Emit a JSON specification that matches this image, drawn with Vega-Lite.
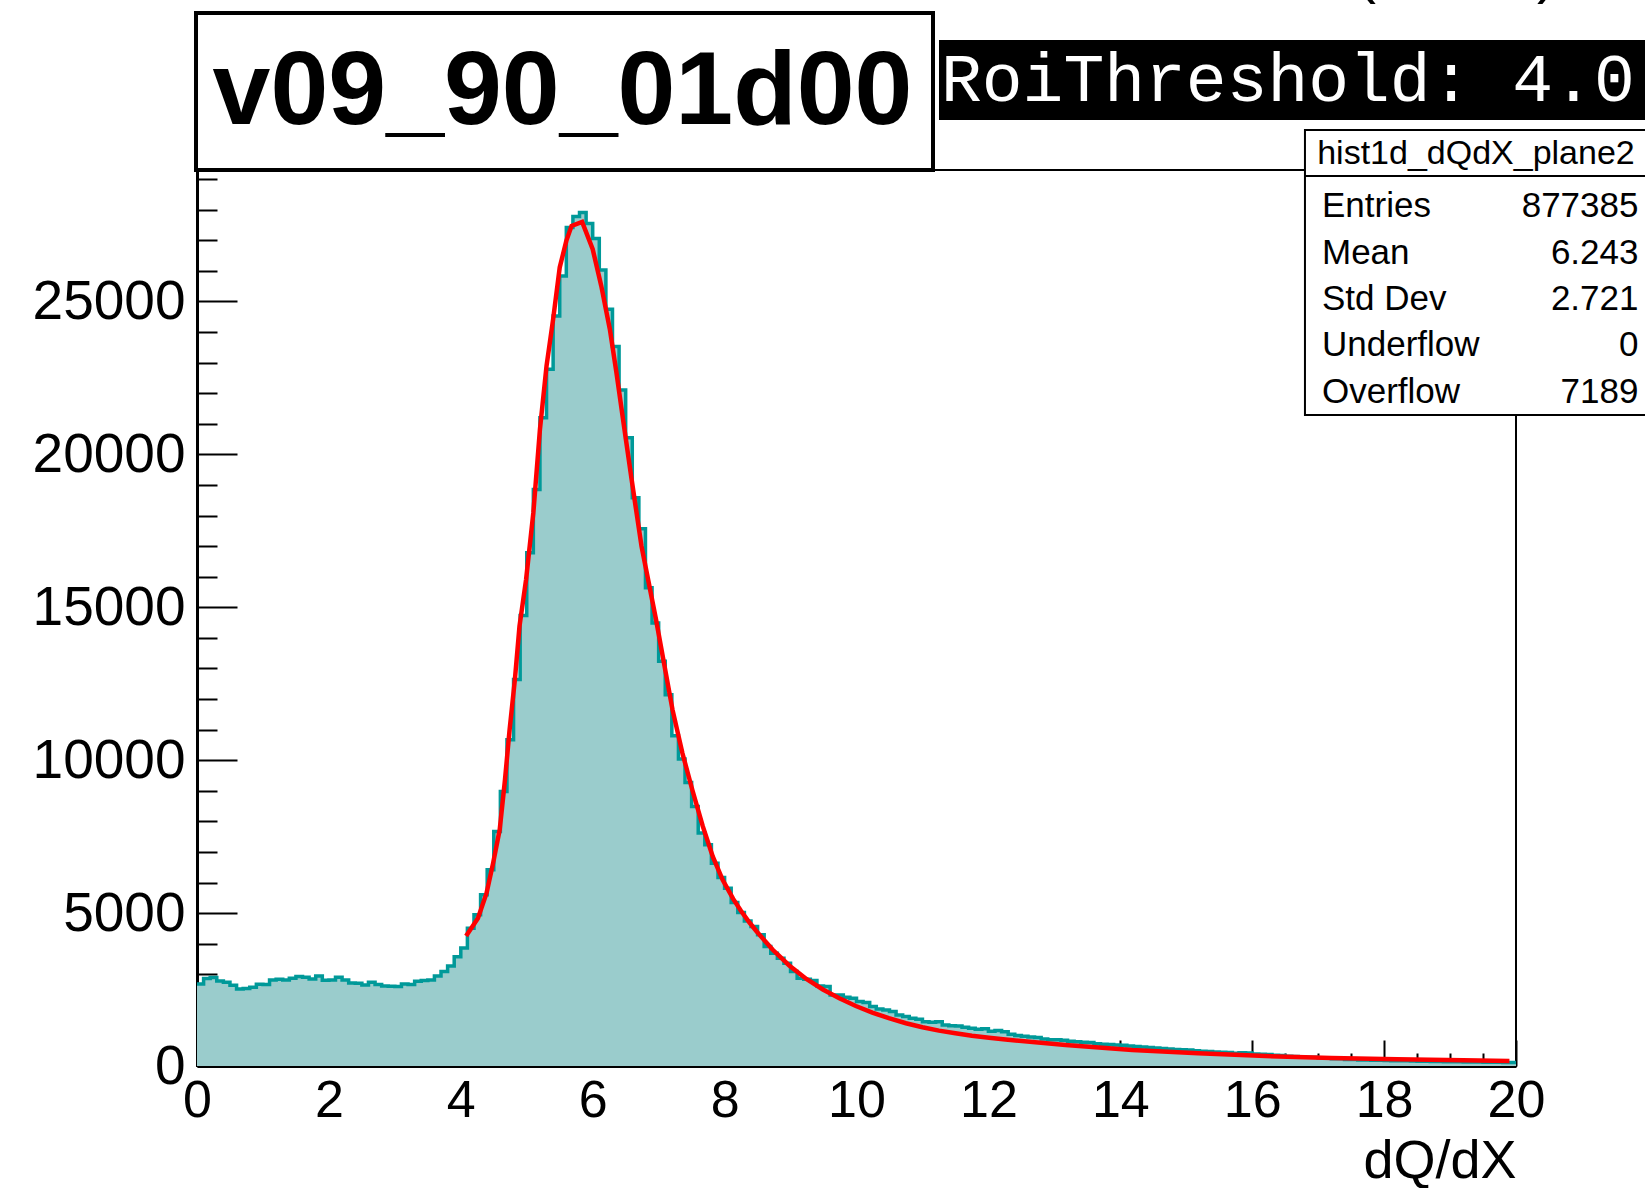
{
  "$schema": "https://vega.github.io/schema/vega-lite/v6.json",
  "width": 1319,
  "height": 896,
  "autosize": {"type": "none"},
  "padding": {"left": 197, "top": 170, "right": 129, "bottom": 122},
  "background": "white",
  "config": {
    "view": {"stroke": "black", "strokeWidth": 2},
    "font": "Liberation Sans"
  },
  "resolve": {"axis": {"x": "independent", "y": "independent"}},
  "datasets": {
    "hist": [
      {"x0":0,"x1":0.1,"n":2684},{"x0":0.1,"x1":0.2,"n":2858},{"x0":0.2,"x1":0.3,"n":2891},{"x0":0.3,"x1":0.4,"n":2782},{"x0":0.4,"x1":0.5,"n":2738},
      {"x0":0.5,"x1":0.6,"n":2640},{"x0":0.6,"x1":0.7,"n":2520},{"x0":0.7,"x1":0.8,"n":2531},{"x0":0.8,"x1":0.9,"n":2575},{"x0":0.9,"x1":1,"n":2673},
      {"x0":1,"x1":1.1,"n":2662},{"x0":1.1,"x1":1.2,"n":2815},{"x0":1.2,"x1":1.3,"n":2837},{"x0":1.3,"x1":1.4,"n":2815},{"x0":1.4,"x1":1.5,"n":2869},
      {"x0":1.5,"x1":1.6,"n":2924},{"x0":1.6,"x1":1.7,"n":2902},{"x0":1.7,"x1":1.8,"n":2848},{"x0":1.8,"x1":1.9,"n":2946},{"x0":1.9,"x1":2,"n":2804},
      {"x0":2,"x1":2.1,"n":2815},{"x0":2.1,"x1":2.2,"n":2902},{"x0":2.2,"x1":2.3,"n":2815},{"x0":2.3,"x1":2.4,"n":2717},{"x0":2.4,"x1":2.5,"n":2706},
      {"x0":2.5,"x1":2.6,"n":2651},{"x0":2.6,"x1":2.7,"n":2738},{"x0":2.7,"x1":2.8,"n":2662},{"x0":2.8,"x1":2.9,"n":2618},{"x0":2.9,"x1":3,"n":2607},
      {"x0":3,"x1":3.1,"n":2597},{"x0":3.1,"x1":3.2,"n":2684},{"x0":3.2,"x1":3.3,"n":2662},{"x0":3.3,"x1":3.4,"n":2771},{"x0":3.4,"x1":3.5,"n":2793},
      {"x0":3.5,"x1":3.6,"n":2815},{"x0":3.6,"x1":3.7,"n":2946},{"x0":3.7,"x1":3.8,"n":3088},{"x0":3.8,"x1":3.9,"n":3270},{"x0":3.9,"x1":4,"n":3570},
      {"x0":4,"x1":4.1,"n":3860},{"x0":4.1,"x1":4.2,"n":4507},{"x0":4.2,"x1":4.3,"n":4943},{"x0":4.3,"x1":4.4,"n":5597},{"x0":4.4,"x1":4.5,"n":6416},
      {"x0":4.5,"x1":4.6,"n":7670},{"x0":4.6,"x1":4.7,"n":8979},{"x0":4.7,"x1":4.8,"n":10671},{"x0":4.8,"x1":4.9,"n":12635},{"x0":4.9,"x1":5,"n":14730},
      {"x0":5,"x1":5.1,"n":16782},{"x0":5.1,"x1":5.2,"n":18854},{"x0":5.2,"x1":5.3,"n":21201},{"x0":5.3,"x1":5.4,"n":22782},{"x0":5.4,"x1":5.5,"n":24527},
      {"x0":5.5,"x1":5.6,"n":25837},{"x0":5.6,"x1":5.7,"n":27420},{"x0":5.7,"x1":5.8,"n":27780},{"x0":5.8,"x1":5.9,"n":27911},{"x0":5.9,"x1":6,"n":27550},
      {"x0":6,"x1":6.1,"n":27060},{"x0":6.1,"x1":6.2,"n":26034},{"x0":6.2,"x1":6.3,"n":24746},{"x0":6.3,"x1":6.4,"n":23525},{"x0":6.4,"x1":6.5,"n":22105},
      {"x0":6.5,"x1":6.6,"n":20546},{"x0":6.6,"x1":6.7,"n":18582},{"x0":6.7,"x1":6.8,"n":17567},{"x0":6.8,"x1":6.9,"n":15636},{"x0":6.9,"x1":7,"n":14490},
      {"x0":7,"x1":7.1,"n":13235},{"x0":7.1,"x1":7.2,"n":12144},{"x0":7.2,"x1":7.3,"n":10802},{"x0":7.3,"x1":7.4,"n":10039},{"x0":7.4,"x1":7.5,"n":9274},
      {"x0":7.5,"x1":7.6,"n":8488},{"x0":7.6,"x1":7.7,"n":7616},{"x0":7.7,"x1":7.8,"n":7234},{"x0":7.8,"x1":7.9,"n":6634},{"x0":7.9,"x1":8,"n":6165},
      {"x0":8,"x1":8.1,"n":5816},{"x0":8.1,"x1":8.2,"n":5347},{"x0":8.2,"x1":8.3,"n":5020},{"x0":8.3,"x1":8.4,"n":4740},{"x0":8.4,"x1":8.5,"n":4560},
      {"x0":8.5,"x1":8.6,"n":4288},{"x0":8.6,"x1":8.7,"n":3906},{"x0":8.7,"x1":8.8,"n":3688},{"x0":8.8,"x1":8.9,"n":3524},{"x0":8.9,"x1":9,"n":3360},
      {"x0":9,"x1":9.1,"n":3088},{"x0":9.1,"x1":9.2,"n":2870},{"x0":9.2,"x1":9.3,"n":2837},{"x0":9.3,"x1":9.4,"n":2800},{"x0":9.4,"x1":9.5,"n":2620},
      {"x0":9.5,"x1":9.6,"n":2596},{"x0":9.6,"x1":9.7,"n":2324},{"x0":9.7,"x1":9.8,"n":2324},{"x0":9.8,"x1":9.9,"n":2247},{"x0":9.9,"x1":10,"n":2215},
      {"x0":10,"x1":10.1,"n":2106},{"x0":10.1,"x1":10.2,"n":2073},{"x0":10.2,"x1":10.3,"n":1942},{"x0":10.3,"x1":10.4,"n":1860},{"x0":10.4,"x1":10.5,"n":1833},
      {"x0":10.5,"x1":10.6,"n":1779},{"x0":10.6,"x1":10.7,"n":1670},{"x0":10.7,"x1":10.8,"n":1615},{"x0":10.8,"x1":10.9,"n":1560},{"x0":10.9,"x1":11,"n":1528},
      {"x0":11,"x1":11.1,"n":1450},{"x0":11.1,"x1":11.2,"n":1430},{"x0":11.2,"x1":11.3,"n":1451},{"x0":11.3,"x1":11.4,"n":1342},{"x0":11.4,"x1":11.5,"n":1320},
      {"x0":11.5,"x1":11.6,"n":1309},{"x0":11.6,"x1":11.7,"n":1266},{"x0":11.7,"x1":11.8,"n":1233},{"x0":11.8,"x1":11.9,"n":1200},{"x0":11.9,"x1":12,"n":1222},
      {"x0":12,"x1":12.1,"n":1135},{"x0":12.1,"x1":12.2,"n":1157},{"x0":12.2,"x1":12.3,"n":1120},{"x0":12.3,"x1":12.4,"n":1040},{"x0":12.4,"x1":12.5,"n":1000},
      {"x0":12.5,"x1":12.6,"n":970},{"x0":12.6,"x1":12.7,"n":950},{"x0":12.7,"x1":12.8,"n":930},{"x0":12.8,"x1":12.9,"n":880},{"x0":12.9,"x1":13,"n":860},
      {"x0":13,"x1":13.1,"n":855},{"x0":13.1,"x1":13.2,"n":840},{"x0":13.2,"x1":13.3,"n":810},{"x0":13.3,"x1":13.4,"n":790},{"x0":13.4,"x1":13.5,"n":780},
      {"x0":13.5,"x1":13.6,"n":765},{"x0":13.6,"x1":13.7,"n":730},{"x0":13.7,"x1":13.8,"n":715},{"x0":13.8,"x1":13.9,"n":705},{"x0":13.9,"x1":14,"n":690},
      {"x0":14,"x1":14.1,"n":680},{"x0":14.1,"x1":14.2,"n":650},{"x0":14.2,"x1":14.3,"n":635},{"x0":14.3,"x1":14.4,"n":620},{"x0":14.4,"x1":14.5,"n":605},
      {"x0":14.5,"x1":14.6,"n":585},{"x0":14.6,"x1":14.7,"n":570},{"x0":14.7,"x1":14.8,"n":560},{"x0":14.8,"x1":14.9,"n":540},{"x0":14.9,"x1":15,"n":530},
      {"x0":15,"x1":15.1,"n":520},{"x0":15.1,"x1":15.2,"n":495},{"x0":15.2,"x1":15.3,"n":485},{"x0":15.3,"x1":15.4,"n":475},{"x0":15.4,"x1":15.5,"n":455},
      {"x0":15.5,"x1":15.6,"n":450},{"x0":15.6,"x1":15.7,"n":440},{"x0":15.7,"x1":15.8,"n":420},{"x0":15.8,"x1":15.9,"n":430},{"x0":15.9,"x1":16,"n":425},
      {"x0":16,"x1":16.1,"n":395},{"x0":16.1,"x1":16.2,"n":385},{"x0":16.2,"x1":16.3,"n":375},{"x0":16.3,"x1":16.4,"n":355},{"x0":16.4,"x1":16.5,"n":345},
      {"x0":16.5,"x1":16.6,"n":320},{"x0":16.6,"x1":16.7,"n":310},{"x0":16.7,"x1":16.8,"n":300},{"x0":16.8,"x1":16.9,"n":290},{"x0":16.9,"x1":17,"n":285},
      {"x0":17,"x1":17.1,"n":260},{"x0":17.1,"x1":17.2,"n":250},{"x0":17.2,"x1":17.3,"n":240},{"x0":17.3,"x1":17.4,"n":235},{"x0":17.4,"x1":17.5,"n":215},
      {"x0":17.5,"x1":17.6,"n":210},{"x0":17.6,"x1":17.7,"n":200},{"x0":17.7,"x1":17.8,"n":195},{"x0":17.8,"x1":17.9,"n":190},{"x0":17.9,"x1":18,"n":185},
      {"x0":18,"x1":18.1,"n":180},{"x0":18.1,"x1":18.2,"n":175},{"x0":18.2,"x1":18.3,"n":172},{"x0":18.3,"x1":18.4,"n":168},{"x0":18.4,"x1":18.5,"n":160},
      {"x0":18.5,"x1":18.6,"n":158},{"x0":18.6,"x1":18.7,"n":155},{"x0":18.7,"x1":18.8,"n":150},{"x0":18.8,"x1":18.9,"n":148},{"x0":18.9,"x1":19,"n":140},
      {"x0":19,"x1":19.1,"n":138},{"x0":19.1,"x1":19.2,"n":135},{"x0":19.2,"x1":19.3,"n":132},{"x0":19.3,"x1":19.4,"n":130},{"x0":19.4,"x1":19.5,"n":128},
      {"x0":19.5,"x1":19.6,"n":125},{"x0":19.6,"x1":19.7,"n":122},{"x0":19.7,"x1":19.8,"n":120},{"x0":19.8,"x1":19.9,"n":118},{"x0":19.9,"x1":20,"n":115}
    ],
    "fit": [
      {"x":4.08,"f":4255},{"x":4.26,"f":4834},{"x":4.39,"f":5652},{"x":4.49,"f":6634},{"x":4.59,"f":7725},
      {"x":4.67,"f":9362},{"x":4.74,"f":10998},{"x":4.82,"f":12635},{"x":4.89,"f":14380},{"x":4.99,"f":15908},
      {"x":5.1,"f":18091},{"x":5.2,"f":20818},{"x":5.3,"f":22891},{"x":5.4,"f":24419},{"x":5.5,"f":26111},
      {"x":5.6,"f":26983},{"x":5.68,"f":27473},{"x":5.84,"f":27604},{"x":6.0,"f":26710},{"x":6.13,"f":25509},
      {"x":6.26,"f":24092},{"x":6.36,"f":22673},{"x":6.46,"f":21146},{"x":6.59,"f":19181},{"x":6.74,"f":16999},
      {"x":6.84,"f":15908},{"x":6.96,"f":14599},{"x":7.09,"f":13071},{"x":7.21,"f":11653},{"x":7.36,"f":10235},
      {"x":7.51,"f":9034},{"x":7.67,"f":7834},{"x":7.82,"f":6852},{"x":7.97,"f":6088},{"x":8.13,"f":5464},
      {"x":8.25,"f":5068},{"x":8.38,"f":4684},{"x":8.48,"f":4414},{"x":8.73,"f":3801},{"x":8.98,"f":3288},
      {"x":9.24,"f":2846},{"x":9.49,"f":2501},{"x":9.74,"f":2213},{"x":9.99,"f":1963},{"x":10.24,"f":1745},
      {"x":10.49,"f":1563},{"x":10.75,"f":1397},{"x":11.0,"f":1266},{"x":11.25,"f":1157},{"x":11.5,"f":1069},
      {"x":11.75,"f":990},{"x":12.01,"f":924},{"x":12.26,"f":865},{"x":13.17,"f":687},{"x":14.18,"f":524},
      {"x":15.18,"f":415},{"x":16.2,"f":327},{"x":17.2,"f":262},{"x":18.2,"f":218},{"x":19.2,"f":185},{"x":19.9,"f":164}
    ]
  },
  "layer": [
    {
      "data": {"name": "hist"},
      "transform": [{"fold": ["x0", "x1"], "as": ["k", "edge"]}],
      "mark": {"type": "area", "fill": "#9acccc", "stroke": null},
      "encoding": {
        "x": {
          "field": "edge", "type": "quantitative",
          "scale": {"domain": [0, 20], "nice": false, "zero": false},
          "axis": {
            "orient": "bottom",
            "values": [0,2,4,6,8,10,12,14,16,18,20],
            "format": "d",
            "tickSize": -26,
            "tickWidth": 2, "tickColor": "black",
            "domainColor": "black", "domainWidth": 3,
            "grid": false,
            "labelFont": "Liberation Sans", "labelFontSize": 52, "labelColor": "black",
            "labelPadding": 35, "labelFlush": false, "labelOverlap": false, "labelBound": false,
            "title": "dQ/dX", "titleFont": "Liberation Sans", "titleFontSize": 54, "titleFontWeight": "normal",
            "titleColor": "black", "titleAnchor": "end", "titlePadding": 8
          }
        },
        "y": {
          "field": "n", "type": "quantitative", "stack": null,
          "scale": {"domain": [0, 29300], "nice": false},
          "axis": {
            "orient": "left",
            "values": [0,5000,10000,15000,20000,25000],
            "format": "d",
            "tickSize": -40,
            "tickWidth": 2, "tickColor": "black",
            "domainColor": "black", "domainWidth": 3,
            "grid": false,
            "labelFont": "Liberation Sans", "labelFontSize": 55, "labelColor": "black",
            "labelPadding": 52, "labelFlush": false, "labelOverlap": false, "labelBound": false,
            "title": null
          }
        },
        "order": [{"field": "edge", "type": "quantitative", "sort": "ascending"}, {"field": "k", "type": "nominal", "sort": "descending"}]
      }
    },
    {
      "data": {"name": "hist"},
      "transform": [{"fold": ["x0", "x1"], "as": ["k", "edge"]}],
      "mark": {"type": "line", "stroke": "#009999", "strokeWidth": 3.5},
      "encoding": {
        "x": {
          "field": "edge", "type": "quantitative",
          "axis": {
            "orient": "bottom",
            "values": [0.5,1,1.5,2.5,3,3.5,4.5,5,5.5,6.5,7,7.5,8.5,9,9.5,10.5,11,11.5,12.5,13,13.5,14.5,15,15.5,16.5,17,17.5,18.5,19,19.5],
            "labels": false, "domain": false, "grid": false,
            "tickSize": -13, "tickWidth": 2, "tickColor": "black",
            "title": null
          }
        },
        "y": {
          "field": "n", "type": "quantitative",
          "axis": {
            "orient": "left",
            "values": [1000,2000,3000,4000,6000,7000,8000,9000,11000,12000,13000,14000,16000,17000,18000,19000,21000,22000,23000,24000,26000,27000,28000,29000],
            "labels": false, "domain": false, "grid": false,
            "tickSize": -20, "tickWidth": 2, "tickColor": "black",
            "title": null
          }
        },
        "order": [{"field": "edge", "type": "quantitative", "sort": "ascending"}, {"field": "k", "type": "nominal", "sort": "descending"}]
      }
    },
    {
      "data": {"name": "fit"},
      "mark": {"type": "line", "stroke": "#ff0000", "strokeWidth": 4.5},
      "encoding": {
        "x": {"field": "x", "type": "quantitative", "axis": null},
        "y": {"field": "f", "type": "quantitative", "axis": null}
      }
    },
    {
      "data": {"values": [{"label": "v09_90_01d00"}]},
      "layer": [
        {
          "mark": {"type": "rect", "fill": "white", "stroke": "black", "strokeWidth": 4},
          "encoding": {
            "x": {"datum": -0.015, "type": "quantitative", "axis": null},
            "x2": {"datum": 11.16},
            "y": {"datum": 34434, "type": "quantitative", "axis": null},
            "y2": {"datum": 29300}
          }
        },
        {
          "mark": {"type": "text", "font": "Liberation Sans", "fontWeight": "bold", "fontSize": 104, "align": "center", "baseline": "alphabetic", "color": "black"},
          "encoding": {
            "x": {"datum": 5.542, "type": "quantitative", "axis": null},
            "y": {"datum": 30804, "type": "quantitative", "axis": null},
            "text": {"field": "label"}
          }
        }
      ]
    },
    {
      "data": {"values": [{"label": "RoiThreshold: 4.0"}]},
      "layer": [
        {
          "mark": {"type": "rect", "fill": "black", "stroke": null},
          "encoding": {
            "x": {"datum": 11.251, "type": "quantitative", "axis": null},
            "x2": {"datum": 22.18},
            "y": {"datum": 33551, "type": "quantitative", "axis": null},
            "y2": {"datum": 30935}
          }
        },
        {
          "mark": {"type": "text", "font": "Liberation Mono", "fontSize": 68, "align": "left", "baseline": "alphabetic", "color": "white"},
          "encoding": {
            "x": {"datum": 11.281, "type": "quantitative", "axis": null},
            "y": {"datum": 31566, "type": "quantitative", "axis": null},
            "text": {"field": "label"}
          }
        }
      ]
    },
    {
      "data": {"values": [{"name": "hist1d_dQdX_plane2", "labels": "Entries\nMean\nStd Dev\nUnderflow\nOverflow", "vals": "877385\n6.243\n2.721\n0\n7189"}]},
      "layer": [
        {
          "mark": {"type": "rect", "fill": "white", "stroke": "black", "strokeWidth": 2},
          "encoding": {
            "x": {"datum": 16.8, "type": "quantitative", "axis": null},
            "x2": {"datum": 22.18},
            "y": {"datum": 30608, "type": "quantitative", "axis": null},
            "y2": {"datum": 21288}
          }
        },
        {
          "mark": {"type": "rule", "stroke": "black", "strokeWidth": 2},
          "encoding": {
            "x": {"datum": 16.8, "type": "quantitative", "axis": null},
            "x2": {"datum": 22.18},
            "y": {"datum": 29104, "type": "quantitative", "axis": null}
          }
        },
        {
          "mark": {"type": "text", "font": "Liberation Sans", "fontSize": 34, "align": "center", "baseline": "alphabetic", "color": "black"},
          "encoding": {
            "x": {"datum": 19.393, "type": "quantitative", "axis": null},
            "y": {"datum": 29496, "type": "quantitative", "axis": null},
            "text": {"field": "name"}
          }
        },
        {
          "mark": {"type": "text", "font": "Liberation Sans", "fontSize": 35, "align": "left", "baseline": "alphabetic", "color": "black", "lineBreak": "\n", "lineHeight": 46.3},
          "encoding": {
            "x": {"datum": 17.058, "type": "quantitative", "axis": null},
            "y": {"datum": 27747, "type": "quantitative", "axis": null},
            "text": {"field": "labels"}
          }
        },
        {
          "mark": {"type": "text", "font": "Liberation Sans", "fontSize": 35, "align": "right", "baseline": "alphabetic", "color": "black", "lineBreak": "\n", "lineHeight": 46.3},
          "encoding": {
            "x": {"datum": 21.857, "type": "quantitative", "axis": null},
            "y": {"datum": 27747, "type": "quantitative", "axis": null},
            "text": {"field": "vals"}
          }
        }
      ]
    },
    {
      "data": {"values": [{"p": "("}]},
      "mark": {"type": "text", "font": "Liberation Sans", "fontSize": 60, "align": "center", "baseline": "alphabetic", "color": "black"},
      "encoding": {
        "x": {"datum": 17.726, "type": "quantitative", "axis": null},
        "y": {"datum": 35121, "type": "quantitative", "axis": null},
        "text": {"field": "p"}
      }
    },
    {
      "data": {"values": [{"p": ")"}]},
      "mark": {"type": "text", "font": "Liberation Sans", "fontSize": 60, "align": "center", "baseline": "alphabetic", "color": "black"},
      "encoding": {
        "x": {"datum": 20.47, "type": "quantitative", "axis": null},
        "y": {"datum": 35121, "type": "quantitative", "axis": null},
        "text": {"field": "p"}
      }
    }
  ]
}
